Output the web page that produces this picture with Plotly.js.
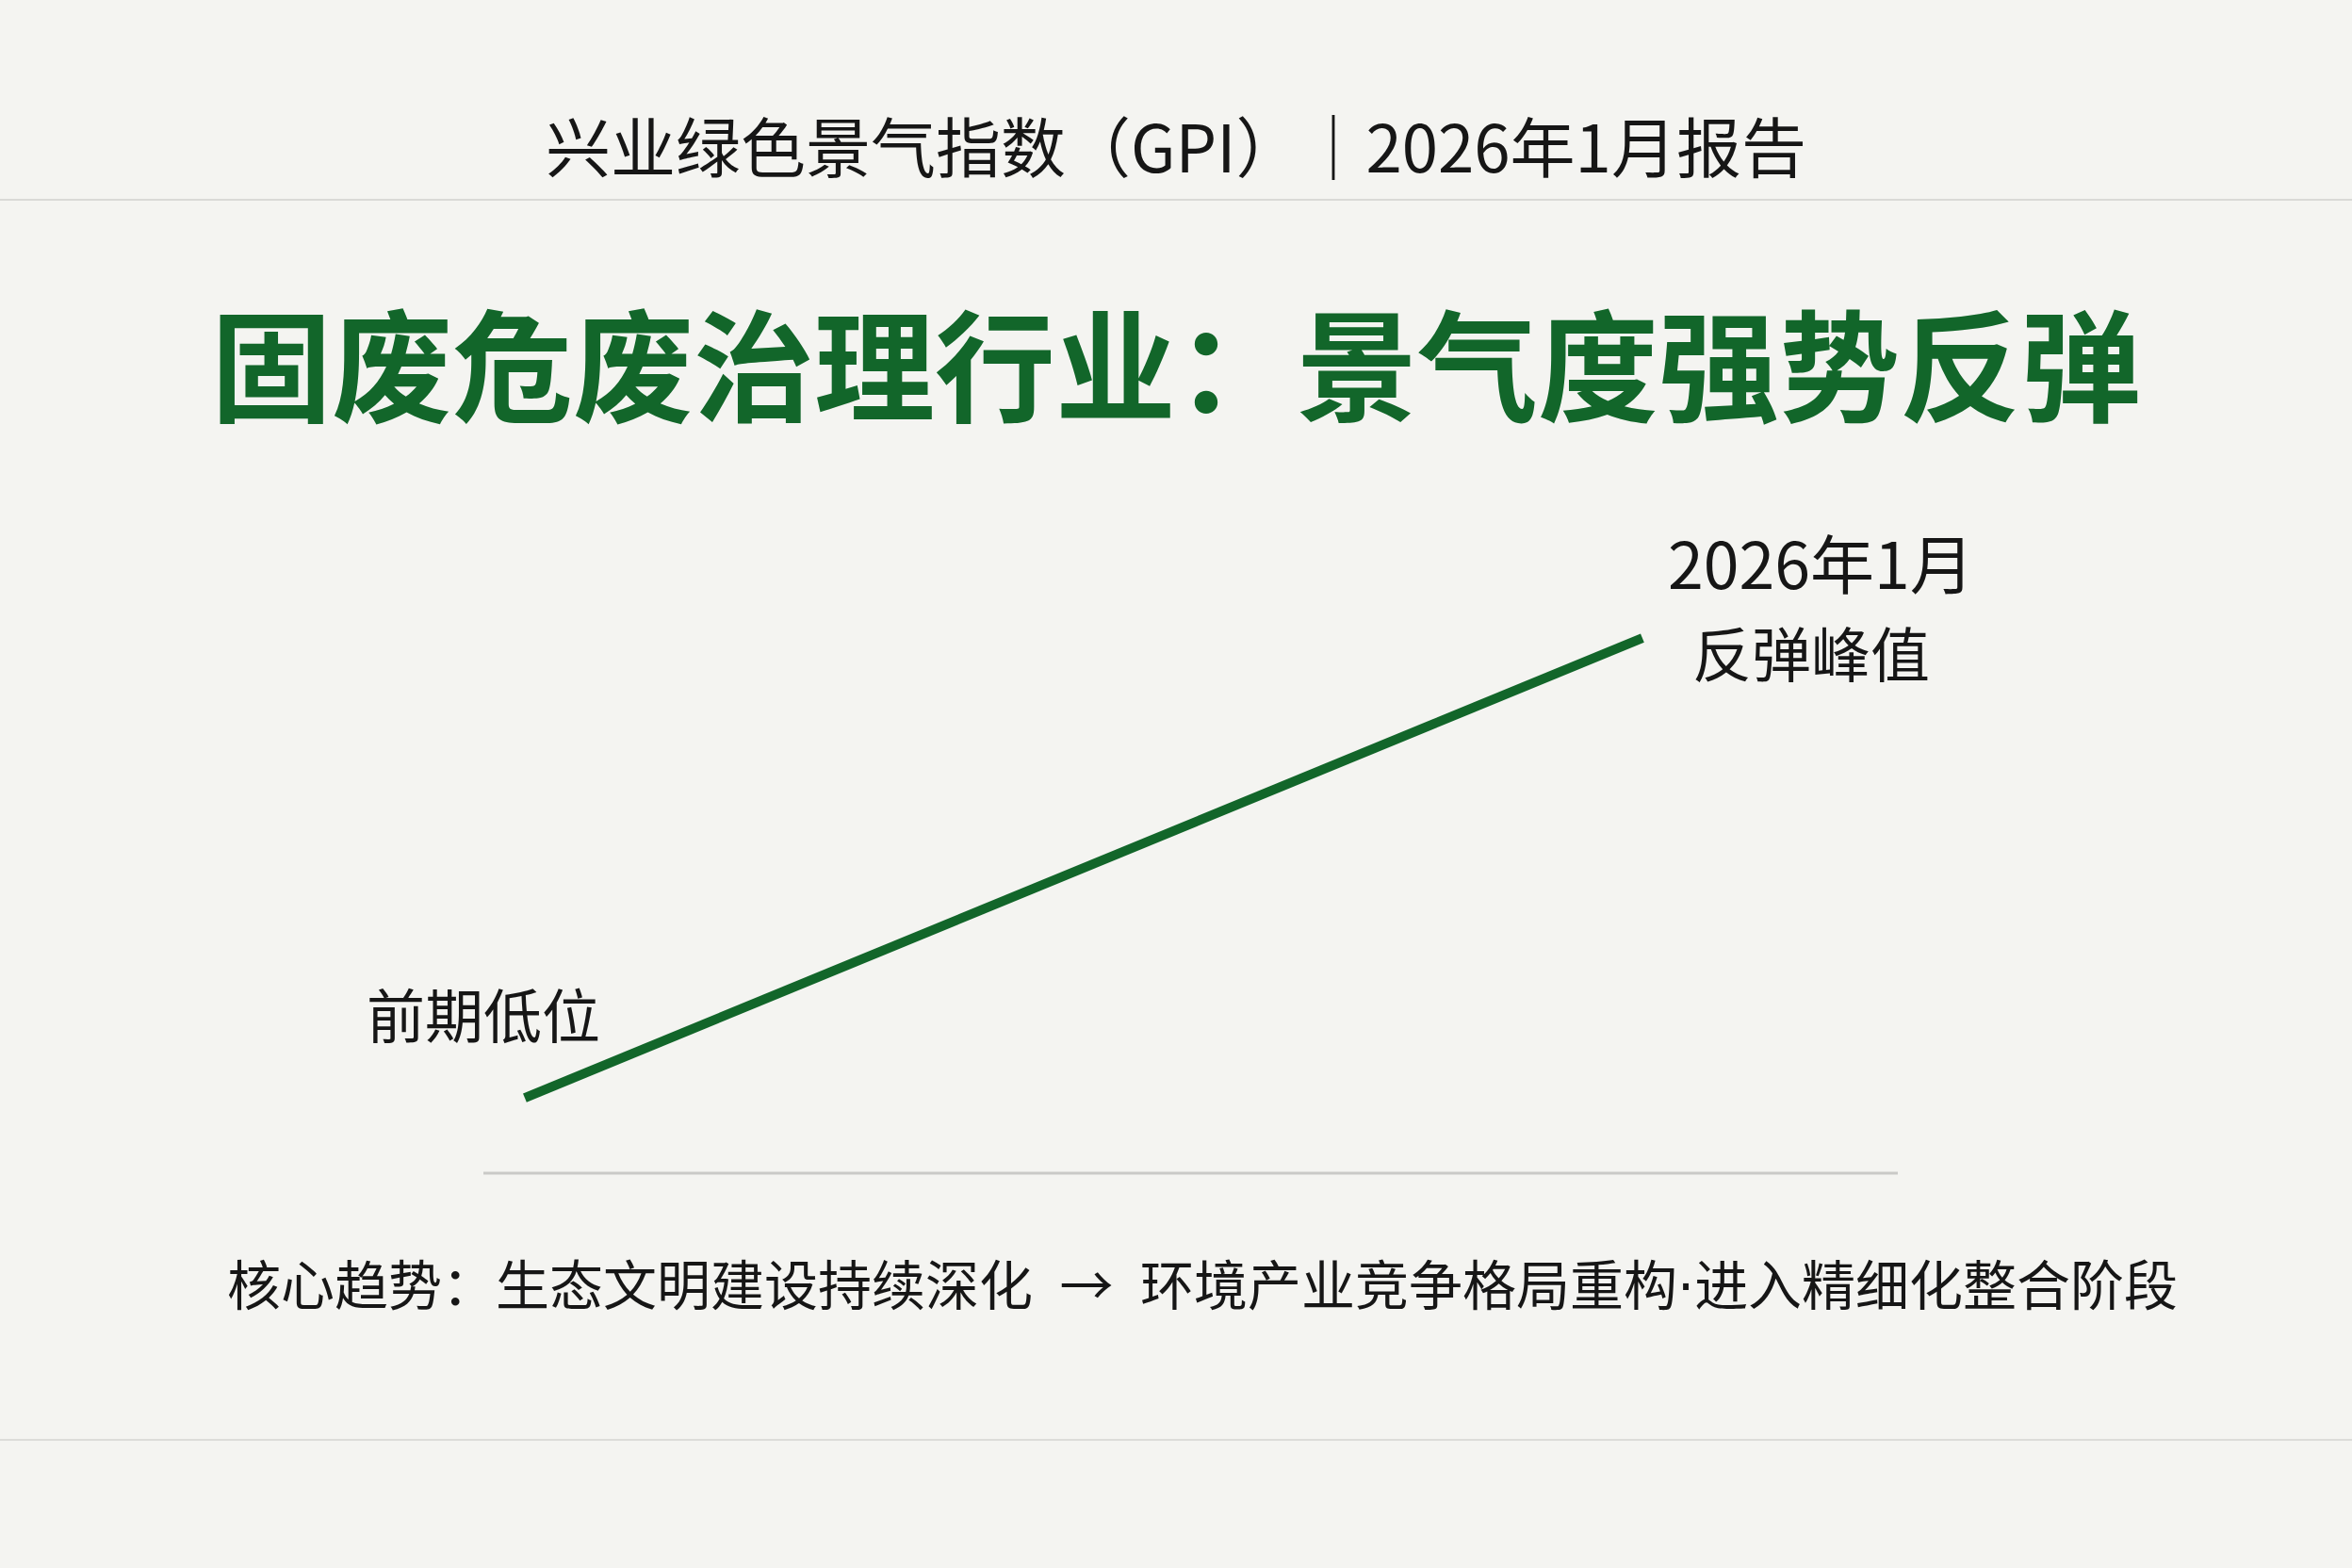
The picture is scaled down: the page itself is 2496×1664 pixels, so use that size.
<!DOCTYPE html>
<html>
<head>
<meta charset="utf-8">
<script src="https://cdn.plot.ly/plotly-3.0.1.min.js"></script>
<style>
  html, body { margin: 0; padding: 0; background: #f4f4f1; }
  #chart { width: 2496px; height: 1664px; }
</style>
</head>
<body>
<div id="chart"></div>
<script>
// two points only: the earlier low and the Jan 2026 peak
var periods = ['前期低位', '2026年1月'];
var gpiValues = [40, 60];
var peakNote = '反弹峰值';

var headerText = '兴业绿色景气指数（GPI）｜2026年1月报告';
var titleText = '固废危废治理行业：景气度强势反弹';
var footerLead = '核心趋势：生态文明建设持续深化';
var footerMid = '环境产业竞争格局重构';
var footerTail = '进入精细化整合阶段';

var cjk = '"Noto Sans CJK SC", "Noto Sans", sans-serif';
var green = '#12662a';
var ink = '#161616';

var xIdx = periods.map(function (p, i) { return i; });

// arrow gets a bit more room, the middle dot is the narrow latin one
var footerText = footerLead + '\u2002\u2192\u2002' + footerMid +
    '<span style="font-family:DejaVu Sans">·</span>' + footerTail;

var plotlyData = [
    {
        x: xIdx,
        y: gpiValues,
        type: 'scatter',
        mode: 'lines',
        line: { color: green, width: 10 },
        hoverinfo: 'skip',
        showlegend: false
    }
];

var plotlyLayout = {
    width: 2496,
    height: 1664,
    margin: { l: 0, r: 0, t: 0, b: 0 },
    paper_bgcolor: '#f4f4f1',
    plot_bgcolor: 'rgba(0,0,0,0)',
    font: { family: cjk, color: ink },
    xaxis: {
        range: [-0.4696, 1.635],
        visible: false,
        fixedrange: true
    },
    yaxis: {
        range: [19.55, 87.75],
        visible: false,
        fixedrange: true
    },
    shapes: [
        // thin rule under the header
        { type: 'line', xref: 'paper', yref: 'paper', x0: 0, x1: 1,
          y0: 1 - 212 / 1664, y1: 1 - 212 / 1664,
          line: { color: '#d9d9d6', width: 2 } },
        // base rule under the line
        { type: 'line', xref: 'paper', yref: 'paper', x0: 513 / 2496, x1: 2014 / 2496,
          y0: 1 - 1245 / 1664, y1: 1 - 1245 / 1664,
          line: { color: '#c9c9c7', width: 3 } },
        // bottom rule
        { type: 'line', xref: 'paper', yref: 'paper', x0: 0, x1: 1,
          y0: 1 - 1528 / 1664, y1: 1 - 1528 / 1664,
          line: { color: '#dcdcd9', width: 2 } }
    ],
    annotations: [
        { text: headerText, xref: 'paper', yref: 'paper', x: 0.5, y: 1 - 153 / 1664,
          xanchor: 'center', yanchor: 'middle', showarrow: false,
          font: { size: 69, color: ink, family: cjk } },
        { text: '<b>' + titleText + '</b>', xref: 'paper', yref: 'paper', x: 0.5, y: 1 - 382 / 1664,
          xanchor: 'center', yanchor: 'middle', showarrow: false,
          font: { size: 128, color: green, family: cjk } },
        { text: periods[0], x: xIdx[0], y: gpiValues[0], xshift: -44, yshift: 90,
          xanchor: 'center', yanchor: 'middle', showarrow: false,
          font: { size: 62, color: ink, family: cjk } },
        { text: periods[1], x: xIdx[1], y: gpiValues[1], xshift: 190, yshift: 82,
          xanchor: 'center', yanchor: 'middle', showarrow: false,
          font: { size: 68, color: ink, family: cjk } },
        { text: peakNote, x: xIdx[1], y: gpiValues[1], xshift: 179, yshift: -13,
          xanchor: 'center', yanchor: 'middle', showarrow: false,
          font: { size: 63, color: ink, family: cjk } },
        { text: footerText, xref: 'paper', yref: 'paper', x: 1276 / 2496, y: 1 - 1360 / 1664,
          xanchor: 'center', yanchor: 'middle', showarrow: false,
          font: { size: 57, color: ink, family: cjk } }
    ]
};

var plotlyConfig = {
    displayModeBar: false,
    staticPlot: true
};

Plotly.newPlot('chart', plotlyData, plotlyLayout, plotlyConfig);
</script>
</body>
</html>
